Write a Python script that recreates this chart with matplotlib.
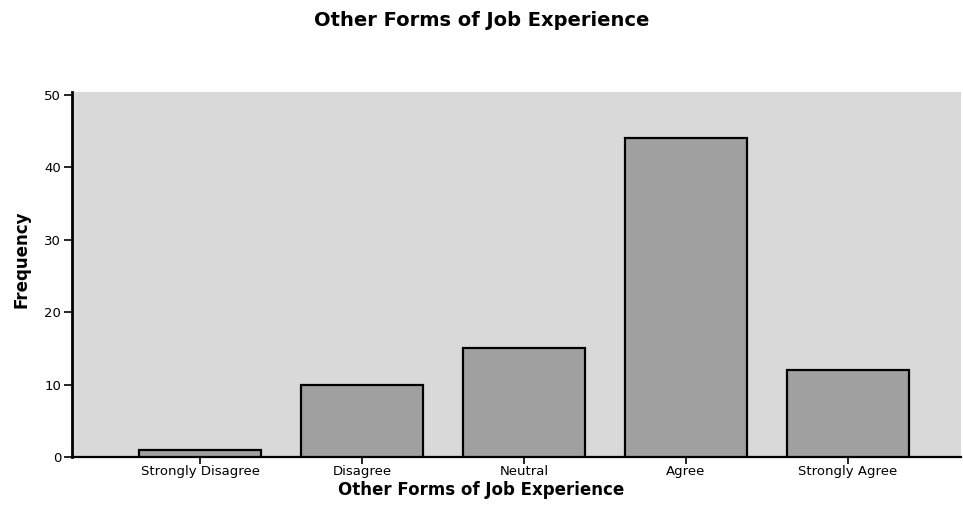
import matplotlib
matplotlib.use("Agg")
import matplotlib.pyplot as plt

categories = ["Strongly Disagree", "Disagree", "Neutral", "Agree", "Strongly Agree"]
frequency = [1, 10, 15, 44, 12]
y_ticks = [0, 10, 20, 30, 40, 50]

fig = plt.figure(figsize=(9.63, 5.09), dpi=100)
ax = fig.add_axes([0.075, 0.102, 0.923, 0.717])
ax.set_facecolor("#d9d9d9")

x = range(len(categories))
ax.bar(x, frequency, width=0.755, color="#a0a0a0", edgecolor="black", linewidth=1.6, zorder=3)

ax.set_xlim(-0.79, 4.70)
ax.set_ylim(0, 50.4)
ax.set_yticks(y_ticks)
ax.set_xticks(list(x))
ax.set_xticklabels(categories, fontsize=9.5, family="DejaVu Sans")
ax.set_yticklabels([str(v) for v in y_ticks], fontsize=9.5, family="DejaVu Sans")
ax.tick_params(axis="y", length=6, width=1.2, pad=2)
ax.tick_params(axis="x", length=5, width=1.2, pad=1)

for s in ["top", "right"]:
    ax.spines[s].set_visible(False)
ax.spines["left"].set_linewidth(2)
ax.spines["bottom"].set_linewidth(1.6)

# axis titles placed in figure coordinates, like the original layout
fig.text(0.022, 0.49, "Frequency", rotation=90, ha="center", va="center",
         fontsize=12, fontweight="bold", family="DejaVu Sans")
fig.text(0.5, 0.038, "Other Forms of Job Experience", ha="center", va="center",
         fontsize=12, fontweight="bold", family="DejaVu Sans")
fig.text(0.5, 0.96, "Other Forms of Job Experience", ha="center", va="center",
         fontsize=14, fontweight="bold", family="DejaVu Sans")

fig.savefig("out.png", dpi=100)
